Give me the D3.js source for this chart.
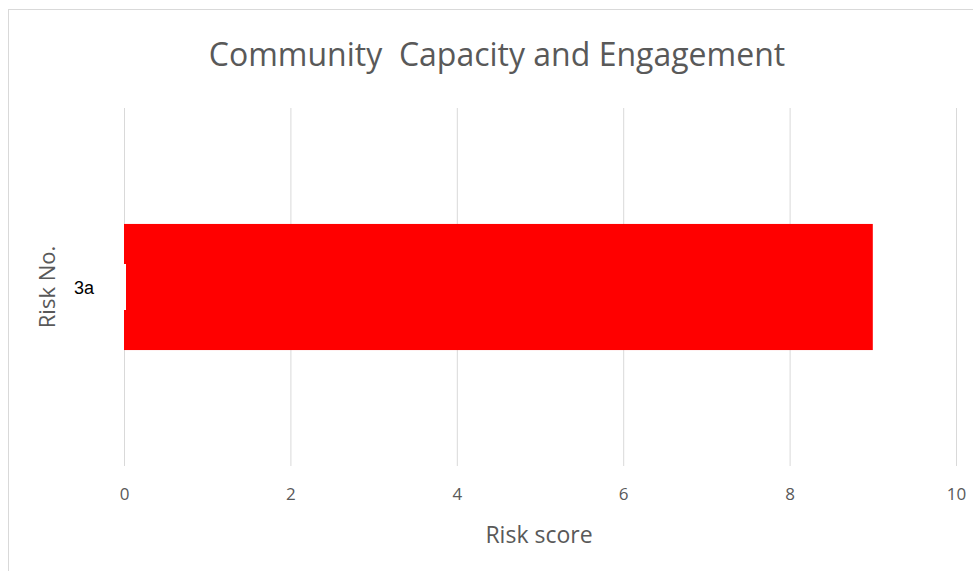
<!DOCTYPE html>
<html>
<head>
<meta charset="utf-8">
<script src="https://cdn.jsdelivr.net/npm/d3@7"></script>
<style>
  body { margin: 0; background: #fff; }
  text { font-family: "Open Sans", sans-serif; }
</style>
</head>
<body>
<div id="chart"></div>
<script>
// chart data
let categories = ["3a"];
let scores = [9];
let xTicks = [0, 2, 4, 6, 8, 10];

let width = 973, height = 571;

let svg = d3.select("#chart")
    .append("svg")
    .attr("width", width)
    .attr("height", height);

// chart border (runs off the right and bottom edges)
svg.append("rect")
    .attr("x", 8.5)
    .attr("y", 9.5)
    .attr("width", 1000)
    .attr("height", 600)
    .attr("fill", "#fff")
    .attr("stroke", "#d9d9d9");

let x = d3.scaleLinear()
    .domain([0, 10])
    .range([124, 956]);

let y = d3.scaleBand()
    .domain(categories)
    .range([108, 466])
    .paddingInner(0.479)
    .paddingOuter(0.479);

// vertical gridlines
svg.append("g")
    .selectAll("line")
    .data(xTicks)
    .enter()
    .append("line")
    .attr("x1", d => x(d) + 0.5)
    .attr("x2", d => x(d) + 0.5)
    .attr("y1", 108)
    .attr("y2", 466)
    .attr("stroke", "#d9d9d9")
    .attr("stroke-width", 1);

// bars
svg.append("g")
    .selectAll("rect")
    .data(categories)
    .enter()
    .append("rect")
    .attr("x", x(0))
    .attr("y", d => y(d))
    .attr("width", (d, i) => x(scores[i]) - x(0))
    .attr("height", y.bandwidth())
    .attr("fill", "#ff0000");

// x axis tick labels
let xAxis = svg.append("g")
    .attr("transform", `translate(0, 488)`)
    .call(d3.axisBottom(x).tickValues(xTicks).tickSize(0).tickPadding(0));
xAxis.select(".domain").remove();
xAxis.selectAll("text")
    .style("font-family", "'Open Sans', sans-serif")
    .style("font-size", "17px")
    .attr("fill", "#595959");

// category label with white box over the bar start
let catLabels = svg.append("g");
catLabels.selectAll("rect")
    .data(categories)
    .enter()
    .append("rect")
    .attr("x", 66)
    .attr("y", d => y(d) + y.bandwidth() / 2 - 23)
    .attr("width", 60)
    .attr("height", 46)
    .attr("fill", "#fff");
catLabels.selectAll("text")
    .data(categories)
    .enter()
    .append("text")
    .attr("x", 74)
    .attr("y", d => y(d) + y.bandwidth() / 2 + 7)
    .style("font-family", "Arial, 'Liberation Sans', sans-serif")
    .style("font-size", "18px")
    .attr("fill", "#000")
    .text(d => d);

// title
svg.append("text")
    .attr("x", 497)
    .attr("y", 66)
    .style("text-anchor", "middle")
    .style("font-size", "32px")
    .style("white-space", "pre")
    .attr("fill", "#595959")
    .text("Community  Capacity and Engagement");

// axis titles
svg.append("text")
    .attr("x", 539)
    .attr("y", 543)
    .style("text-anchor", "middle")
    .style("font-size", "23px")
    .attr("fill", "#595959")
    .text("Risk score");

svg.append("text")
    .attr("transform", `translate(55, 287) rotate(-90)`)
    .style("text-anchor", "middle")
    .style("font-size", "22px")
    .attr("fill", "#595959")
    .text("Risk No.");
</script>
</body>
</html>
